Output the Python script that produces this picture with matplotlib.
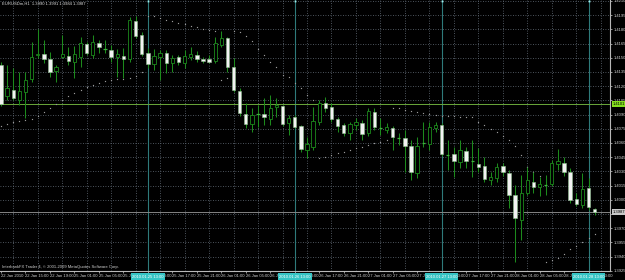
import matplotlib
matplotlib.use('Agg')
import matplotlib.pyplot as plt
import numpy as np

plt.rcParams['font.family'] = ['Liberation Sans', 'DejaVu Sans']

# EURUSD H1 candles, 22-28 Jan 2010
symbol = 'EURUSDm,H1'
opens = [1.4142, 1.4110, 1.4116, 1.4105, 1.4114, 1.4128, 1.4153, 1.4154, 1.4149, 1.4136,
         1.4151, 1.4152, 1.4146, 1.4151, 1.4165, 1.4153, 1.4166, 1.4159, 1.4158, 1.4151,
         1.4152, 1.4149, 1.4189, 1.4174, 1.4155, 1.4143, 1.4151, 1.4155, 1.4144, 1.4151,
         1.4144, 1.4151, 1.4153, 1.4149, 1.4149, 1.4147, 1.4163, 1.4171, 1.4140, 1.4115,
         1.4091, 1.4080, 1.4091, 1.4091, 1.4085, 1.4098, 1.4099, 1.4081, 1.4087, 1.4078,
         1.4053, 1.4056, 1.4082, 1.4102, 1.4098, 1.4085, 1.4079, 1.4071, 1.4079, 1.4081,
         1.4071, 1.4093, 1.4076, 1.4074, 1.4076, 1.4065, 1.4065, 1.4057, 1.4028, 1.4060,
         1.4059, 1.4076, 1.4079, 1.4047, 1.4048, 1.4040, 1.4052, 1.4041, 1.4038, 1.4036,
         1.4021, 1.4023, 1.4036, 1.4028, 1.4005, 1.3979, 1.4007, 1.4019, 1.4014, 1.4016,
         1.4017, 1.4038, 1.4039, 1.4029, 1.4001, 1.3995, 1.4012, 1.3990]
highs = [1.4146, 1.4142, 1.4139, 1.4135, 1.4135, 1.4167, 1.4180, 1.4169, 1.4156, 1.4142,
         1.4174, 1.4161, 1.4162, 1.4172, 1.4167, 1.4174, 1.4169, 1.4169, 1.4163, 1.4159,
         1.4160, 1.4193, 1.4194, 1.4177, 1.4160, 1.4159, 1.4158, 1.4158, 1.4153, 1.4153,
         1.4158, 1.4161, 1.4157, 1.4151, 1.4153, 1.4172, 1.4178, 1.4172, 1.4150, 1.4118,
         1.4102, 1.4097, 1.4100, 1.4108, 1.4111, 1.4108, 1.4100, 1.4090, 1.4090, 1.4079,
         1.4066, 1.4098, 1.4105, 1.4109, 1.4102, 1.4087, 1.4081, 1.4082, 1.4086, 1.4084,
         1.4097, 1.4097, 1.4086, 1.4081, 1.4078, 1.4071, 1.4074, 1.4063, 1.4066, 1.4082,
         1.4082, 1.4082, 1.4081, 1.4063, 1.4056, 1.4063, 1.4056, 1.4063, 1.4055, 1.4045,
         1.4029, 1.4039, 1.4039, 1.4031, 1.4016, 1.4026, 1.4035, 1.4029, 1.4024, 1.4026,
         1.4042, 1.4054, 1.4045, 1.4034, 1.4007, 1.4028, 1.4023, 1.3991]
lows = [1.4099, 1.4105, 1.4105, 1.4100, 1.4086, 1.4124, 1.4150, 1.4144, 1.4130, 1.4124,
        1.4150, 1.4142, 1.4129, 1.4140, 1.4153, 1.4150, 1.4155, 1.4155, 1.4146, 1.4130,
        1.4129, 1.4146, 1.4171, 1.4152, 1.4139, 1.4137, 1.4127, 1.4134, 1.4135, 1.4142,
        1.4139, 1.4148, 1.4146, 1.4144, 1.4144, 1.4144, 1.4161, 1.4135, 1.4114, 1.4089,
        1.4076, 1.4072, 1.4077, 1.4079, 1.4079, 1.4087, 1.4078, 1.4068, 1.4076, 1.4050,
        1.4044, 1.4053, 1.4079, 1.4093, 1.4082, 1.4072, 1.4067, 1.4063, 1.4074, 1.4063,
        1.4067, 1.4074, 1.4068, 1.4071, 1.4053, 1.4058, 1.4029, 1.4021, 1.4023, 1.4056,
        1.4053, 1.4072, 1.4046, 1.4031, 1.4024, 1.4034, 1.4034, 1.4024, 1.4029, 1.4019,
        1.4016, 1.4019, 1.4025, 1.3991, 1.3934, 1.3958, 1.4005, 1.4007, 1.4004, 1.4005,
        1.4015, 1.4031, 1.4025, 1.3997, 1.3993, 1.3991, 1.3989, 1.3984]
closes = [1.4101, 1.4118, 1.4108, 1.4115, 1.4127, 1.4151, 1.4154, 1.4149, 1.4135, 1.4140,
          1.4154, 1.4147, 1.4154, 1.4166, 1.4155, 1.4167, 1.4161, 1.4159, 1.4151, 1.4154,
          1.4149, 1.4190, 1.4173, 1.4154, 1.4143, 1.4152, 1.4155, 1.4144, 1.4150, 1.4146,
          1.4152, 1.4154, 1.4149, 1.4147, 1.4146, 1.4166, 1.4171, 1.4140, 1.4116, 1.4092,
          1.4080, 1.4090, 1.4091, 1.4087, 1.4097, 1.4100, 1.4080, 1.4086, 1.4077, 1.4054,
          1.4059, 1.4083, 1.4102, 1.4097, 1.4085, 1.4078, 1.4071, 1.4080, 1.4082, 1.4069,
          1.4094, 1.4077, 1.4076, 1.4077, 1.4066, 1.4065, 1.4057, 1.4029, 1.4057, 1.4060,
          1.4077, 1.4079, 1.4048, 1.4047, 1.4041, 1.4053, 1.4041, 1.4041, 1.4035, 1.4022,
          1.4024, 1.4035, 1.4029, 1.4005, 1.3981, 1.4007, 1.4021, 1.4014, 1.4017, 1.4016,
          1.4039, 1.4041, 1.4029, 1.4000, 1.3996, 1.4011, 1.3992, 1.3987]
# parabolic SAR dots
sar = [1.4078, 1.4080, 1.4082, 1.4083, 1.4084, 1.4085, 1.4089, 1.4093, 1.4097, 1.4101,
       1.4105, 1.4110, 1.4113, 1.4116, 1.4119, 1.4121, 1.4123, 1.4125, 1.4127, 1.4128,
       1.4128, 1.4129, 1.4131, 1.4135, 1.4194, 1.4194, 1.4192, 1.4190, 1.4189, 1.4187,
       1.4186, 1.4184, 1.4182, 1.4180, 1.4179, 1.4178, 1.4127, 1.4129, 1.4178, 1.4177,
       1.4173, 1.4168, 1.4159, 1.4153, 1.4146, 1.4140, 1.4132, 1.4130, 1.4123, 1.4118,
       1.4111, 1.4105, 1.4044, 1.4045, 1.4047, 1.4049, 1.4050, 1.4053, 1.4055, 1.4056,
       1.4058, 1.4060, 1.4061, 1.4063, 1.4097, 1.4097, 1.4095, 1.4094, 1.4093, 1.4092,
       1.4091, 1.4090, 1.4088, 1.4088, 1.4088, 1.4087, 1.4087, 1.4087, 1.4082, 1.4079,
       1.4075, 1.4072, 1.4067, 1.4063, 1.4057, 1.4047, 1.4035, 1.4029, 1.4025, 1.3934,
       1.3936, 1.3939, 1.3943, 1.3948, 1.3951, 1.3955, 1.3960, 1.3964]

time_labels = ['22 Jan 2010', '22 Jan 15:00', '22 Jan 19:00', '25 Jan 01:00', '25 Jan 05:00',
               '25 Jan 09:00', '25 Jan 13:00', '25 Jan 17:00', '25 Jan 21:00', '26 Jan 01:00',
               '26 Jan 05:00', '26 Jan 09:00', '26 Jan 13:00', '26 Jan 17:00', '26 Jan 21:00',
               '27 Jan 01:00', '27 Jan 05:00', '27 Jan 09:00', '27 Jan 13:00', '27 Jan 17:00',
               '27 Jan 21:00', '28 Jan 01:00', '28 Jan 05:00', '28 Jan 09:00', '28 Jan 13:00']
label_bars = [0, 4, 8, 12, 16, 20, 24, 28, 32, 36, 40, 44, 48, 52, 56, 60, 64, 68, 72, 76,
              80, 84, 88, 92, 96]
separator_bars = [24, 48, 72, 96]
separator_labels = ['2010.01.25 13:00', '2010.01.26 13:00', '2010.01.27 13:00', '2010.01.28 13:00']
price_ticks = [1.4210, 1.4195, 1.4180, 1.4165, 1.4150, 1.4135, 1.4120, 1.4105, 1.4090,
               1.4075, 1.4060, 1.4045, 1.4030, 1.4015, 1.4000, 1.3985, 1.3970, 1.3955,
               1.3940, 1.3925]
level_price = 1.4101

green = '#1c8a1c'
fs = 3

fig = plt.figure(figsize=(6.25, 2.8), dpi=100, facecolor='black')
ax = fig.add_axes([0, 9 / 280, 610 / 625, 271 / 280])
ax.set_facecolor('black')

x = np.arange(len(opens))
o = np.array(opens)
h = np.array(highs)
l = np.array(lows)
c = np.array(closes)

# grid: every 2 bars vertically, every price tick horizontally
ax.set_xticks(np.arange(0, 100, 2), minor=True)
ax.grid(which='minor', axis='x', color='#66707c', lw=0.6, linestyle=(0, (1, 2)))
ax.grid(which='major', axis='y', color='#66707c', lw=0.6, linestyle=(0, (1, 2)))
ax.set_axisbelow(True)

# day separators
for b in separator_bars:
    ax.axvline(b, color='#2e7a7a', lw=0.8, zorder=1)

# level line and bid line
ax.axhline(level_price, color='#6aa83a', lw=0.7, zorder=1)
ax.axhline(closes[-1], color='#858585', lw=0.7, zorder=1)

# SAR dots
ax.plot(x, sar, linestyle='none', marker='s', ms=0.85, mew=0, color='#9a9a9a', zorder=2)

# candles
ax.vlines(x, l, h, color=green, lw=0.75, zorder=3)
bull = c > o
bear = c < o
doji = c == o
bw = 0.55
ax.bar(x[bull], (c - o)[bull], bottom=o[bull], width=bw, color='black',
       edgecolor=green, linewidth=0.6, zorder=4)
ax.bar(x[bear], (o - c)[bear], bottom=c[bear], width=bw, color='#f2f2f2',
       edgecolor='#8fbf8f', linewidth=0.4, zorder=4)
ax.hlines(c[doji], x[doji] - bw / 2, x[doji] + bw / 2, color='#3cb43c', lw=0.9, zorder=4)

ax.set_xlim(-0.163, 99.51)
ax.set_ylim(1.39248, 1.42110)

# axes / ticks
for s in ['top', 'left']:
    ax.spines[s].set_visible(False)
for s in ['right', 'bottom']:
    ax.spines[s].set_color('#b8b8b8')
    ax.spines[s].set_linewidth(0.8)

ax.yaxis.tick_right()
ax.set_yticks(price_ticks)
ax.set_yticklabels(['%.4f' % p for p in price_ticks])
ax.tick_params(axis='y', colors='#d0d0d0', labelsize=fs, length=1.5, width=0.5, pad=1)

ax.set_xticks(label_bars)
ax.set_xticklabels(time_labels, ha='left')
ax.tick_params(axis='x', which='major', colors='#d0d0d0', labelsize=fs, length=1.5, width=0.5, pad=1)
ax.tick_params(axis='x', which='minor', length=0)

# object time labels under the day separators
for b, lab in zip(separator_bars, separator_labels):
    ax.text(b, -0.013, lab, transform=ax.get_xaxis_transform(), ha='center', va='top',
            fontsize=fs, color='white', clip_on=False, zorder=6,
            bbox=dict(boxstyle='square,pad=0.25', fc='#35c4c4', ec='none'))
    ax.plot(b, 0.997, marker='s', ms=1.3, mew=0, color='#9ff0f0',
            transform=ax.get_xaxis_transform(), clip_on=False, zorder=6)

# price labels for the level and bid lines
ax.text(1.004, level_price, '%.4f' % level_price, transform=ax.get_yaxis_transform(),
        ha='left', va='center', fontsize=fs, color='black', clip_on=False, zorder=6,
        bbox=dict(boxstyle='square,pad=0.2', fc='#86e020', ec='none'))
ax.text(1.004, closes[-1], '%.4f' % closes[-1], transform=ax.get_yaxis_transform(),
        ha='left', va='center', fontsize=fs, color='black', clip_on=False, zorder=6,
        bbox=dict(boxstyle='square,pad=0.2', fc='#c8c8c8', ec='none'))

# header and footer text
ax.text(0.003, 0.993, '%s  %.4f %.4f %.4f %.4f' % (symbol, opens[-1], highs[-1], lows[-1], closes[-1]),
        transform=ax.transAxes, ha='left', va='top', fontsize=fs, color='#e0e0e0', zorder=6)
ax.text(0.003, 0.008, 'InterbankFX Trader 4, \u00a9 2001-2009 MetaQuotes Software Corp.',
        transform=ax.transAxes, ha='left', va='bottom', fontsize=fs, color='#d0d0d0', zorder=6)

fig.savefig('out.png', dpi=100, facecolor='black')
